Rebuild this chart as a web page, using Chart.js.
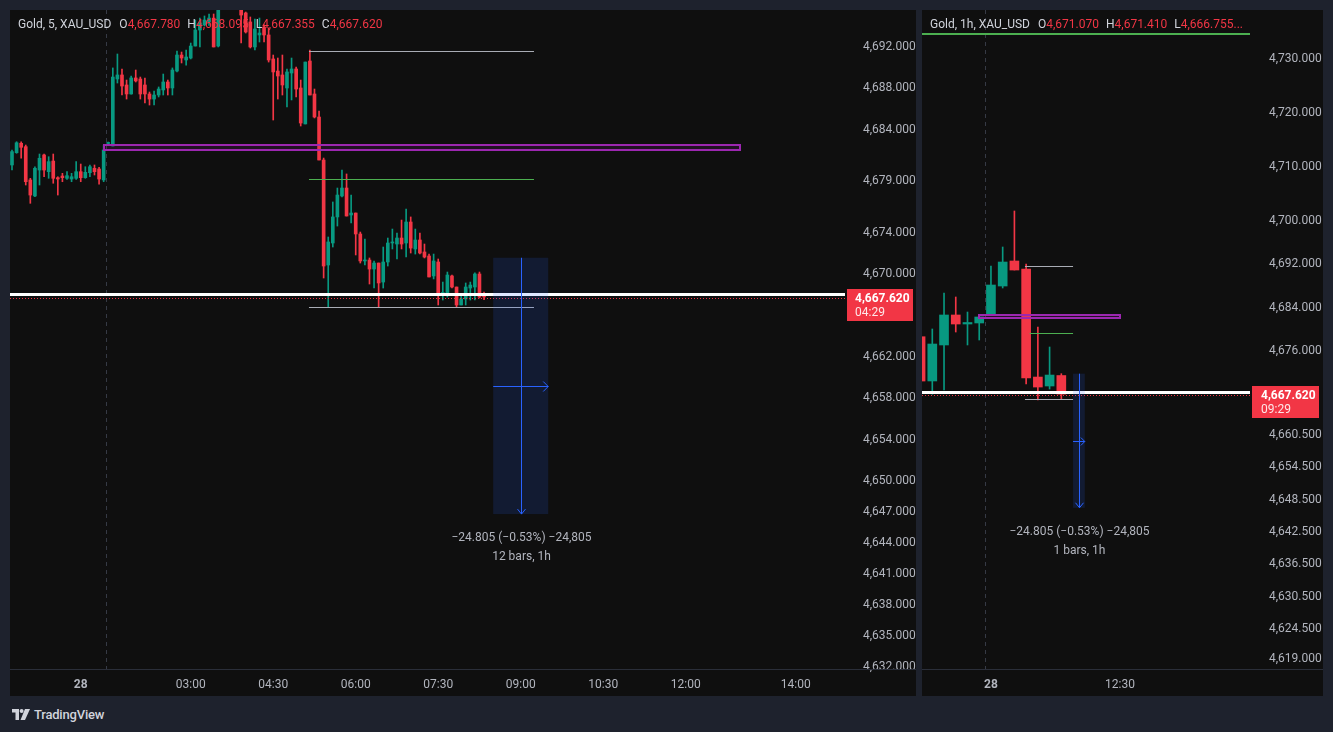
<!DOCTYPE html>
<html><head><meta charset="utf-8">
<script src="https://cdn.jsdelivr.net/npm/chart.js@4.4.1/dist/chart.umd.min.js"></script>
<style>
html,body{margin:0;padding:0;background:#1e222d;width:1333px;height:732px;overflow:hidden;font-family:Roboto,"Noto Sans",sans-serif;}
.panel{position:absolute;background:#0f0f0f;}
#p1{left:10px;top:10px;width:906px;height:686px;}
#p2{left:922px;top:10px;width:401px;height:686px;}
canvas{position:absolute;left:0;top:0;}
.title{position:absolute;top:7px;left:8px;font-size:12px;line-height:14px;color:#d1d4dc;white-space:nowrap;z-index:2;}
.title .k{margin-left:7px;}
.title .v{color:#f23645;}
#logo{position:absolute;left:12px;top:707px;height:14px;display:flex;align-items:center;color:#d1d4dc;font-size:13px;font-weight:500;letter-spacing:-0.2px;}
#logo svg{margin-right:4px;}
</style></head>
<body>
<div class="panel" id="p1"><canvas id="c1" width="906" height="686"></canvas>
<div class="title">Gold, 5, XAU_USD<span class="k" style="margin-left:8px">O<span class="v">4,667.780</span></span><span class="k">H<span class="v">4,668.095</span></span><span class="k">L<span class="v">4,667.355</span></span><span class="k">C<span class="v">4,667.620</span></span></div>
</div>
<div class="panel" id="p2"><canvas id="c2" width="401" height="686"></canvas>
<div class="title">Gold, 1h, XAU_USD<span class="k" style="margin-left:8px">O<span class="v">4,671.070</span></span><span class="k">H<span class="v">4,671.410</span></span><span class="k">L<span class="v">4,666.755...</span></span></div>
</div>
<div id="logo"><svg width="18" height="11" viewBox="0 0 18 11"><path d="M0 0H7V11H3.5V3.5H0Z" fill="#d1d4dc"/><circle cx="9.6" cy="2" r="2" fill="#d1d4dc"/><path d="M13 0H18L13 11H8.5Z" fill="#d1d4dc"/></svg>TradingView</div>
<script>
// ---------- 5 minute candles (bar index 0..103) ----------
const open5  = [4680.39,4681.58,4682.49,4682.16,4678.94,4677.39,4679.90,4681.36,4679.74,4680.77,4679.16,4679.32,4679.10,4679.03,4679.10,4679.74,4679.16,4679.64,4680.07,4680.00,4678.94,4682.47,
  4682.23,4688.71,4689.10,4688.13,4687.26,4688.81,4688.71,4688.13,4687.26,4686.77,4687.16,4687.65,4688.42,4687.84,4689.48,4691.03,4690.55,4690.74,4691.90,4693.45,4693.94,4694.23,4694.60,4691.90,
  4696.20,4697.50,4696.80,4697.80,4696.00,4695.10,4694.23,4691.81,4692.97,4693.74,4692.97,4690.65,4689.48,4689.10,4687.84,4689.29,4689.68,4687.84,4684.36,4690.45,4687.26,4685.03,
  4680.87,4670.71,4672.84,4675.36,4677.39,4678.16,4675.55,4675.74,4673.71,4671.10,4671.19,4670.32,4670.90,4669.06,4671.00,4672.84,4672.74,4673.32,4672.84,4674.87,4672.26,4673.13,
  4671.97,4671.58,4669.65,4671.00,4667.95,4667.81,4669.65,4668.58,4666.84,4667.42,4668.48,4668.58,4669.84,4667.78];
const high5  = [4681.84,4682.64,4682.64,4682.32,4679.10,4680.22,4681.45,4681.45,4681.19,4681.45,4679.25,4679.58,4679.74,4679.58,4680.71,4680.48,4680.22,4680.39,4680.39,4680.17,4682.32,4682.61,
  4689.78,4691.13,4689.68,4688.61,4689.00,4689.58,4688.90,4688.81,4687.45,4687.55,4687.94,4689.19,4688.61,4689.78,4691.42,4691.32,4691.52,4692.19,4694.42,4694.61,4694.81,4695.00,4695.00,4697.00,
  4698.00,4698.50,4699.00,4698.20,4696.40,4695.19,4694.71,4694.52,4694.61,4693.94,4693.65,4691.03,4690.74,4691.03,4689.68,4690.74,4689.87,4688.61,4690.35,4691.52,4687.74,4685.61,
  4681.06,4673.42,4676.81,4678.16,4679.90,4679.52,4677.48,4675.74,4673.90,4673.23,4671.39,4671.10,4670.90,4672.45,4673.32,4674.19,4673.81,4675.06,4676.13,4675.36,4674.19,4673.81,
  4672.74,4671.77,4671.77,4671.29,4669.06,4670.03,4669.74,4668.58,4667.71,4668.97,4669.06,4669.94,4670.03,4668.095];
const low5   = [4679.90,4681.52,4681.04,4678.45,4676.68,4677.32,4678.45,4679.25,4679.10,4678.62,4677.48,4678.77,4679.00,4678.77,4679.00,4678.77,4679.10,4679.25,4679.42,4678.52,4678.77,4682.32,
  4682.23,4688.32,4687.16,4686.77,4687.23,4688.42,4686.77,4686.39,4686.19,4686.19,4686.97,4687.16,4687.16,4687.16,4689.39,4690.26,4690.06,4690.65,4691.90,4691.81,4693.84,4693.90,4691.81,4691.81,
  4695.60,4696.00,4696.30,4695.80,4692.19,4693.16,4691.71,4691.52,4692.29,4692.29,4690.35,4684.74,4686.77,4687.16,4686.00,4686.68,4686.97,4684.16,4684.36,4687.16,4684.94,4680.87,
  4669.45,4666.65,4672.45,4674.48,4677.29,4675.45,4674.77,4671.68,4670.90,4670.71,4668.87,4668.48,4666.65,4668.48,4670.61,4672.26,4671.29,4672.26,4671.48,4671.87,4671.77,4671.77,
  4671.39,4669.55,4669.36,4666.84,4667.32,4667.61,4668.48,4666.65,4666.84,4666.84,4667.32,4667.32,4667.52,4667.355];
const close5 = [4681.68,4682.54,4682.10,4678.77,4677.48,4680.07,4681.04,4679.90,4680.71,4679.10,4679.03,4679.16,4679.35,4679.25,4679.74,4679.16,4679.68,4680.22,4679.74,4679.03,4681.84,4682.49,
  4688.90,4689.10,4688.03,4687.26,4688.81,4688.52,4687.26,4687.26,4686.77,4687.16,4687.74,4688.42,4687.84,4689.58,4691.03,4690.74,4690.84,4691.90,4693.45,4694.13,4694.42,4694.61,4691.81,4696.20,
  4697.50,4696.80,4697.80,4696.50,4694.90,4693.26,4691.81,4693.55,4693.16,4692.97,4690.55,4689.39,4689.00,4688.13,4689.39,4689.68,4687.74,4684.45,4690.35,4687.16,4685.03,4680.87,
  4670.61,4672.94,4675.36,4677.48,4678.16,4675.45,4675.74,4673.71,4671.10,4671.19,4670.32,4670.90,4668.97,4671.00,4672.84,4672.94,4673.32,4672.74,4674.87,4672.35,4673.13,4671.87,
  4671.48,4669.55,4671.10,4668.00,4668.05,4669.74,4668.58,4666.84,4667.42,4668.58,4668.77,4669.84,4667.61,4667.62];

// ---------- 1 hour candles (bar index -1..11) ----------
const open1h  = [4678.25,4670.06,4676.72,4682.27,4680.60,4680.79,4682.45,4687.63,4692.26,4690.78,4670.79,4669.13,4671.07];
const high1h  = [4679.50,4679.68,4686.32,4685.60,4682.82,4681.90,4691.33,4694.85,4701.51,4691.70,4680.05,4676.35,4671.41];
const low1h   = [4669.60,4667.60,4668.39,4679.12,4676.72,4677.64,4682.45,4687.26,4690.59,4669.50,4666.55,4668.57,4666.755];
const close1h = [4670.05,4676.90,4682.27,4680.60,4680.88,4681.90,4687.82,4692.07,4690.59,4670.61,4668.94,4671.16,4667.62];

// ---------- axes ----------
const priceTicks5  = [4692,4688,4684,4679,4674,4670,4662,4658,4654,4650,4647,4644,4641,4638,4635,4632];
const priceTicks1h = [4730,4720,4710,4700,4692,4684,4676,4660.5,4654.5,4648.5,4642.5,4636.5,4630.5,4624.5,4619];
const timeLabels5  = ['28','03:00','04:30','06:00','07:30','09:00','10:30','12:00','14:00'];
const timeIdx5     = [15,39,57,75,93,111,129,147,171];
const timeLabels1h = ['28','12:30'];
const timeIdx1h    = [5,16];

// ---------- drawn levels ----------
const lastPrice   = 4667.62;
const drawnLevel  = 4667.95;
const zoneTop     = 4682.3, zoneBottom = 4681.8;
const rangeHigh   = 4691.4, midLevel = 4679.0, rangeLow = 4666.65;
const measureTop  = 4671.41, measureBottom = 4646.605;
const topLevel1h  = 4734.2;

const UP = '#089981', DOWN = '#f23645', AXIS_TXT = '#b2b5be', FONT = 'Roboto';
const fmt = v => v.toLocaleString('en-US', {minimumFractionDigits:3, maximumFractionDigits:3});

function overlay(cfg){
  return {
    id:'overlay',
    beforeDatasetsDraw(chart){
      const {ctx, chartArea:a, scales:{x}} = chart;
      ctx.save();
      const px = Math.round(x.getPixelForValue(cfg.sessionBreak)) + 0.5;
      ctx.strokeStyle = '#363a45'; ctx.lineWidth = 1; ctx.setLineDash([4,4]);
      ctx.beginPath(); ctx.moveTo(px, a.top); ctx.lineTo(px, a.bottom); ctx.stroke();
      ctx.restore();
    },
    afterDatasetsDraw(chart){
      const {ctx, chartArea:a, scales:{x,y}} = chart;
      const X = v => x.getPixelForValue(v), Y = v => y.getPixelForValue(v);
      ctx.save();
      ctx.beginPath(); ctx.rect(a.left, a.top, a.right-a.left, a.bottom-a.top); ctx.clip();
      if (cfg.topLevel != null){
        ctx.fillStyle = '#4caf50';
        ctx.fillRect(a.left, Math.round(Y(cfg.topLevel))-1, a.right-a.left, 2);
      }
      // white horizontal line
      ctx.fillStyle = '#ffffff';
      ctx.fillRect(a.left, Math.round(Y(drawnLevel))-1, a.right-a.left, 3);
      // last price dotted
      const ly = Math.round(Y(lastPrice)) + 1.5;
      ctx.strokeStyle = DOWN; ctx.lineWidth = 1; ctx.setLineDash([1,2]);
      ctx.beginPath(); ctx.moveTo(a.left, ly); ctx.lineTo(a.right, ly); ctx.stroke();
      ctx.setLineDash([]);
      // purple zone
      const zx1 = Math.round(X(cfg.zone[0])), zx2 = Math.round(X(cfg.zone[1]));
      const zy1 = Math.round(Y(zoneTop)), zy2 = Math.round(Y(zoneBottom));
      ctx.fillStyle = 'rgba(156,39,176,0.12)'; ctx.fillRect(zx1, zy1, zx2-zx1, zy2-zy1);
      ctx.strokeStyle = '#9c27b0'; ctx.lineWidth = 2; ctx.strokeRect(zx1, zy1, zx2-zx1, zy2-zy1);
      // levels
      ctx.lineWidth = 1;
      cfg.lines.forEach(L => {
        const yy = Math.round(Y(L.p)) + 0.5;
        ctx.strokeStyle = L.color;
        ctx.beginPath(); ctx.moveTo(X(L.from), yy); ctx.lineTo(X(L.to), yy); ctx.stroke();
      });
      // measure tool
      const m = cfg.measure;
      const mx1 = X(m.from), mx2 = X(m.to), my1 = Y(measureTop), my2 = Y(measureBottom);
      const cx = Math.round((mx1+mx2)/2) + 0.5, cy = Math.round((my1+my2)/2) + 0.5;
      ctx.fillStyle = 'rgba(41,98,255,0.15)'; ctx.fillRect(mx1, my1, mx2-mx1, my2-my1);
      ctx.strokeStyle = '#2962ff'; ctx.lineWidth = 1;
      const ah = Math.min(5, (mx2-mx1)/3);
      ctx.beginPath();
      ctx.moveTo(cx, my1); ctx.lineTo(cx, my2);
      ctx.moveTo(cx-4, my2-5); ctx.lineTo(cx, my2); ctx.lineTo(cx+4, my2-5);
      ctx.moveTo(mx1, cy); ctx.lineTo(mx2, cy);
      ctx.moveTo(mx2-ah, cy-ah); ctx.lineTo(mx2, cy); ctx.lineTo(mx2-ah, cy+ah);
      ctx.stroke();
      ctx.fillStyle = AXIS_TXT; ctx.font = '12px ' + FONT; ctx.textAlign = 'center'; ctx.textBaseline = 'middle';
      ctx.fillText(m.text1, cx, my2 + 24);
      ctx.fillText(m.text2, cx, my2 + 43);
      ctx.restore();
    },
    afterDraw(chart){
      const {ctx, chartArea:a, scales:{y}} = chart;
      ctx.save();
      ctx.fillStyle = '#2a2e39';
      ctx.fillRect(0, a.bottom, chart.width, 1);
      const py = Math.round(y.getPixelForValue(lastPrice));
      ctx.fillStyle = DOWN;
      ctx.fillRect(a.right+2, py-8, cfg.boxW, 32);
      ctx.fillStyle = '#ffffff'; ctx.textAlign = 'left'; ctx.textBaseline = 'middle';
      ctx.font = 'bold 12px ' + FONT;
      ctx.fillText(fmt(lastPrice), a.right + cfg.tickPad, py + 1.5);
      ctx.fillStyle = 'rgba(255,255,255,0.88)';
      ctx.font = '12px ' + FONT;
      ctx.fillText(cfg.countdown, a.right + cfg.tickPad, py + 16);
      ctx.restore();
    }
  };
}

function makeChart(id, d, cfg){
  const idx = d.o.map((_, k) => k + d.start);
  const col = d.o.map((v, k) => d.c[k] >= v ? UP : DOWN);
  return new Chart(document.getElementById(id), {
    type:'bar',
    data:{ datasets:[
      { data: idx.map((xv,k) => ({x:xv, y:[d.l[k], d.h[k]]})), backgroundColor: col, barThickness: 1, grouped:false, borderWidth:0, order:2 },
      { data: idx.map((xv,k) => ({x:xv, y:[d.o[k], d.c[k]]})), backgroundColor: col, barThickness: cfg.bodyW, grouped:false, borderWidth:0, minBarLength:1, order:1 }
    ]},
    options:{
      responsive:false, animation:false, devicePixelRatio:1, events:[],
      layout:{padding:0},
      plugins:{legend:{display:false}, tooltip:{enabled:false}},
      scales:{
        x:{ type:'linear', offset:false, min:cfg.xMin, max:cfg.xMax,
            grid:{display:false}, border:{display:false},
            afterBuildTicks: s => { s.ticks = cfg.timeIdx.map(v => ({value:v})); },
            afterFit: s => { s.height = cfg.axisH; s.paddingLeft = 0; s.paddingRight = 0; },
            ticks:{ autoSkip:false, maxRotation:0, padding:1, color:AXIS_TXT,
                    font: c => ({family:FONT, size:12, weight: c.index === 0 ? 'bold' : 'normal'}),
                    callback: v => { const k = cfg.timeIdx.indexOf(v); return k >= 0 ? cfg.timeLabels[k] : ''; } } },
        y:{ type:'linear', position:'right', min:cfg.yMin, max:cfg.yMax,
            grid:{display:false}, border:{display:false},
            afterBuildTicks: s => { s.ticks = cfg.priceTicks.map(v => ({value:v})); },
            afterFit: s => { s.width = cfg.axisW; s.paddingTop = 0; s.paddingBottom = 0; },
            ticks:{ autoSkip:false, padding:cfg.tickPad, labelOffset:2, color:AXIS_TXT, font:{family:FONT, size:12}, callback: v => fmt(v) } }
      }
    },
    plugins:[overlay(cfg)]
  });
}

makeChart('c1', {o:open5, h:high5, l:low5, c:close5, start:0}, {
  bodyW:3, xMin:-0.436, xMax:181.76, yMin:4631.613, yMax:4695.387, axisW:71, axisH:27, tickPad:10, boxW:66,
  priceTicks:priceTicks5, timeIdx:timeIdx5, timeLabels:timeLabels5,
  sessionBreak:20.6, zone:[20.07, 158.8],
  lines:[{p:rangeHigh, from:64.8, to:113.9, color:'#a9acb5'},
         {p:midLevel,  from:64.8, to:113.9, color:'#4caf50'},
         {p:rangeLow,  from:64.8, to:113.9, color:'#a9acb5'}],
  measure:{from:105, to:117, text1:'\u221224.805 (\u22120.53%) \u221224,805', text2:'12 bars, 1h'},
  countdown:'04:29'
});

makeChart('c2', {o:open1h, h:high1h, l:low1h, c:close1h, start:-1}, {
  bodyW:9, xMin:-0.878, xMax:27.085, yMin:4616.774, yMax:4738.696, axisW:73, axisH:27, tickPad:11, boxW:67,
  priceTicks:priceTicks1h, timeIdx:timeIdx1h, timeLabels:timeLabels1h,
  sessionBreak:4.5, zone:[3.98, 16], topLevel:topLevel1h,
  lines:[{p:rangeHigh, from:7.9, to:12, color:'#a9acb5'},
         {p:midLevel,  from:8.3, to:12, color:'#4caf50'},
         {p:rangeLow,  from:7.9, to:12, color:'#a9acb5'}],
  measure:{from:12, to:13, text1:'\u221224.805 (\u22120.53%) \u221224,805', text2:'1 bars, 1h'},
  countdown:'09:29'
});
</script>
</body></html>
